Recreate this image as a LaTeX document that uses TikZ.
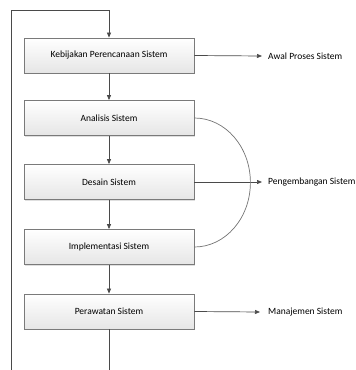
\documentclass[tikz,border=0pt]{standalone}
\usepackage{fontspec}
\setmainfont{Carlito}
\usetikzlibrary{arrows.meta,shadows}
\definecolor{linec}{HTML}{4A4A4A}
\definecolor{boxc}{HTML}{7A7A7A}
\tikzset{
  stepbox/.style={draw=boxc, line width=0.8pt, top color=white, bottom color=black!10,
    minimum width=170pt, minimum height=35pt, inner sep=0pt, font=\fontsize{9.5}{11}\selectfont,
    drop shadow={shadow xshift=1pt, shadow yshift=-1pt, opacity=0.25}},
  conn/.style={draw=linec, line width=0.7pt},
  arr/.style={conn, -{Triangle[length=5pt,width=4pt]}},
  lbl/.style={anchor=west, inner sep=0pt, font=\fontsize{9.5}{11}\selectfont}
}
\begin{document}
\begin{tikzpicture}[x=1pt,y=-1pt]
\useasboundingbox (0,0) rectangle (356,370);
\node[stepbox] (b1) at (109,55.5) {Kebijakan Perencanaan Sistem};
\node[stepbox] (b2) at (109,118) {Analisis Sistem};
\node[stepbox] (b3) at (109,182) {Desain Sistem};
\node[stepbox] (b4) at (109,247) {Implementasi Sistem};
\node[stepbox] (b5) at (109,311.5) {Perawatan Sistem};
\node[lbl] (l1) at (268,56) {Awal Proses Sistem};
\node[lbl] (l3) at (268,182) {Pengembangan Sistem};
\node[lbl] (l5) at (268,312) {Manajemen Sistem};
\coordinate (top) at (109,10);
\coordinate (tl) at (11,10);
\coordinate (bl) at (11,370);
\coordinate (bot) at (109,370);
\draw[arr] (bl) -- (tl) -- (top) -- (b1.north);
\draw[arr] (b1) -- (b2);
\draw[arr] (b2) -- (b3);
\draw[arr] (b3) -- (b4);
\draw[arr] (b4) -- (b5);
\draw[conn] (b5) -- (bot);
\draw[arr] (b1.east) -- ([xshift=-6pt]l1.west);
\draw[arr] (b3.east) -- ([xshift=-6pt]l3.west);
\draw[arr] (b5.east) -- ([xshift=-8pt]l5.west);
\coordinate (a1) at (b2.east);
\draw[conn, draw=black!55] (b2.east) arc[start angle=90, end angle=-90, x radius=56pt, y radius=64.5pt];
\end{tikzpicture}
\end{document}
